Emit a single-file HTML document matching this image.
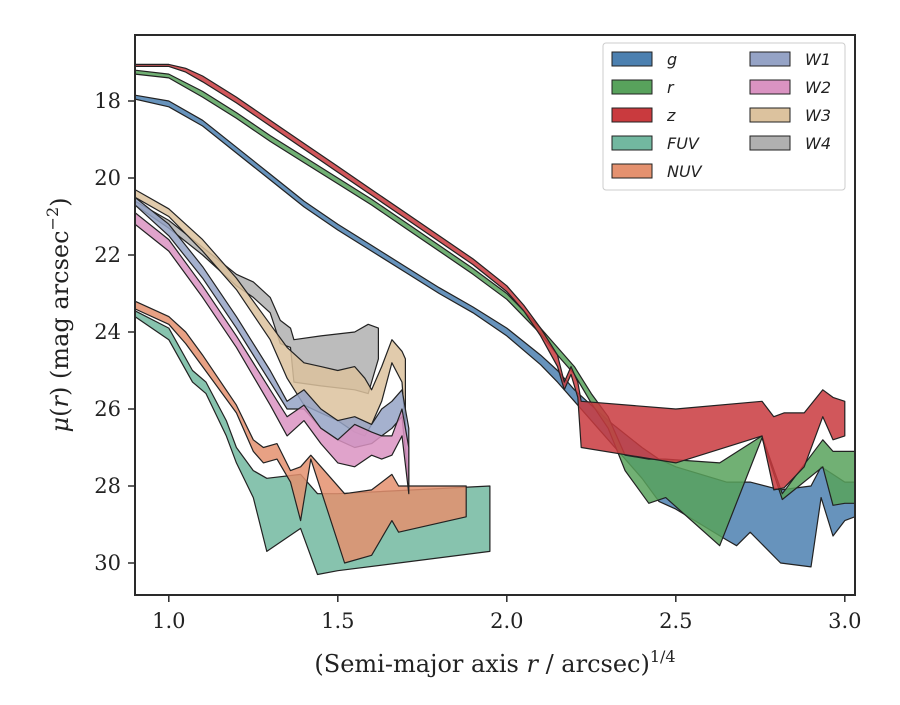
<!DOCTYPE html>
<html><head><meta charset="utf-8">
<style>
body{margin:0;background:#fff;}
svg text{font-family:"DejaVu Serif","Liberation Serif",serif;}
.leg{font-family:"DejaVu Sans","Liberation Sans",sans-serif;font-style:italic;font-size:16px;fill:#222;}
</style></head>
<body>
<svg id="chart" width="900" height="700" xmlns="http://www.w3.org/2000/svg">
<rect width="900" height="700" fill="#fff"/>
<g id="bands"></g>
<g id="axes"></g>
</svg>
<script>
const xTicks=[1.0,1.5,2.0,2.5,3.0];
const xTickLabels=["1.0","1.5","2.0","2.5","3.0"];
const yTicks=[18,20,22,24,26,28,30];
const yTickLabels=["18","20","22","24","26","28","30"];

const gX=[0.9,1.0,1.1,1.2,1.3,1.4,1.5,1.6,1.7,1.8,1.9,2.0,2.1,2.15,2.2,2.3,2.4,2.45,2.5,2.65,2.68,2.72,2.81,2.9,2.93,2.965,3.0,3.03];
const gTop=[17.85,18.0,18.5,19.2,19.9,20.6,21.2,21.75,22.3,22.85,23.35,23.9,24.6,25.0,25.5,26.3,27.0,27.3,27.5,27.9,27.9,27.9,28.1,28.0,27.5,27.7,27.9,27.9];
const gBot=[17.95,18.15,18.65,19.35,20.05,20.75,21.35,21.9,22.45,23.0,23.5,24.1,24.85,25.3,25.8,26.8,27.8,28.4,28.6,29.4,29.55,29.2,30.0,30.1,28.3,29.3,28.9,28.8];

const rX=[0.9,1.0,1.1,1.2,1.3,1.4,1.5,1.6,1.7,1.8,1.9,2.0,2.1,2.15,2.2,2.25,2.3,2.35,2.42,2.47,2.63,2.755,2.815,2.935,2.965,3.0,3.03];
const rTop=[17.2,17.3,17.75,18.3,18.9,19.45,20.0,20.55,21.15,21.75,22.35,23.0,23.9,24.4,24.9,25.6,26.2,27.2,27.3,27.3,27.4,26.7,28.2,26.8,27.1,27.1,27.1];
const rBot=[17.3,17.4,17.9,18.45,19.05,19.6,20.15,20.7,21.3,21.9,22.5,23.15,24.05,24.6,25.1,25.85,26.5,27.6,28.45,28.3,29.55,26.75,28.35,27.5,28.5,28.45,28.45];

const zX=[0.9,1.0,1.05,1.1,1.2,1.3,1.4,1.5,1.6,1.7,1.8,1.9,2.0,2.05,2.1,2.15,2.17,2.19,2.21,2.22,2.5,2.755,2.79,2.82,2.88,2.935,2.965,3.0];
const zTop=[17.05,17.05,17.15,17.35,17.9,18.5,19.1,19.7,20.3,20.9,21.5,22.1,22.8,23.3,23.9,24.6,25.3,24.9,25.3,25.8,26.0,25.8,26.2,26.1,26.1,25.5,25.7,25.8];
const zBot=[17.1,17.1,17.25,17.5,18.05,18.65,19.25,19.85,20.45,21.05,21.65,22.25,22.95,23.45,24.1,24.9,25.5,25.1,25.7,27.0,27.4,26.7,28.1,28.05,27.5,26.2,26.8,26.7];

const fuvX=[0.9,1.0,1.07,1.11,1.17,1.2,1.25,1.29,1.39,1.44,1.5,1.95];
const fuvTop=[23.45,23.9,25.0,25.3,26.3,27.0,27.6,27.8,27.7,28.2,28.2,28.0];
const fuvBot=[23.6,24.2,25.3,25.6,26.7,27.4,28.3,29.7,29.1,30.3,30.2,29.7];

const nuvX=[0.9,1.0,1.05,1.1,1.2,1.25,1.28,1.32,1.36,1.39,1.42,1.52,1.6,1.66,1.68,1.88];
const nuvTop=[23.2,23.6,24.0,24.6,25.9,26.8,27.0,26.9,27.6,27.5,27.2,28.2,28.1,27.7,28.0,28.0];
const nuvBot=[23.4,23.8,24.3,24.9,26.1,27.1,27.4,27.3,27.9,28.9,27.3,30.0,29.8,28.9,29.2,28.8];

const wX=[0.9,1.0,1.1,1.2,1.3,1.35,1.4,1.45,1.5,1.55,1.6,1.63,1.66,1.69,1.71];
const w1Top=[20.5,21.2,22.3,23.6,25.0,25.8,25.5,26.0,26.3,26.2,26.4,26.0,25.8,25.5,26.5];
const w1Bot=[20.7,21.5,22.6,23.9,25.3,26.0,26.0,26.5,26.8,27.0,26.9,26.7,26.5,26.2,28.0];
const w2Top=[20.9,21.6,22.8,24.1,25.5,26.2,25.9,26.5,26.8,26.4,26.6,26.7,26.7,26.0,27.0];
const w2Bot=[21.2,21.9,23.1,24.4,25.9,26.7,26.3,26.9,27.4,27.5,27.2,27.3,27.2,26.7,28.2];

const w3X=[0.9,1.0,1.1,1.2,1.3,1.35,1.4,1.45,1.5,1.55,1.58,1.6,1.63,1.66,1.69,1.7];
const w3Top=[20.3,20.8,21.6,22.6,23.8,24.4,24.8,24.9,25.0,24.9,25.2,25.5,24.9,24.2,24.5,24.7];
const w3Bot=[20.5,21.0,21.9,22.9,24.2,25.2,25.9,26.1,26.3,26.6,26.7,26.4,25.8,24.8,25.3,26.5];

const w4X=[0.9,1.0,1.1,1.2,1.25,1.3,1.33,1.36,1.37,1.45,1.55,1.59,1.62];
const w4Top=[20.6,21.1,21.8,22.5,22.7,23.1,23.7,23.9,24.2,24.1,24.0,23.8,23.9];
const w4Bot=[20.7,21.3,22.0,22.8,23.1,23.5,24.3,24.4,25.3,25.4,25.5,25.6,24.7];

const L=135,R=855,T=35,B=595;
const XMIN=0.9,XMAX=0.9+(R-L)/338,YMIN=18-(101-T)/38.5,YMAX=18+(B-101)/38.5;
function sx(v){return L+(v-XMIN)/(XMAX-XMIN)*(R-L);}
function sy(v){return T+(v-YMIN)/(YMAX-YMIN)*(B-T);}
const NS="http://www.w3.org/2000/svg";
function mk(tag,attrs,parent){const e=document.createElementNS(NS,tag);for(const k in attrs)e.setAttribute(k,attrs[k]);parent.appendChild(e);return e;}

const bands=document.getElementById('bands');
function band(name,xs,top,bot,color){
  let pts=[];
  for(let i=0;i<xs.length;i++)pts.push(sx(xs[i]).toFixed(1)+','+sy(top[i]).toFixed(1));
  for(let i=xs.length-1;i>=0;i--)pts.push(sx(xs[i]).toFixed(1)+','+sy(bot[i]).toFixed(1));
  const p=mk('polygon',{points:pts.join(' '),fill:color,'fill-opacity':0.85,stroke:'#222','stroke-width':1.2,'stroke-linejoin':'round'},bands);
  
  
}
const clip=mk('clipPath',{id:'pc'},document.getElementById('chart'));
mk('rect',{x:L,y:T,width:R-L,height:B-T},clip);
bands.setAttribute('clip-path','url(#pc)');
band('band-fuv',fuvX,fuvTop,fuvBot,'#72b8a0');
band('band-nuv',nuvX,nuvTop,nuvBot,'#e4916f');
band('band-w4',w4X,w4Top,w4Bot,'#b0b0b0');
band('band-w3',w3X,w3Top,w3Bot,'#dcc29e');
band('band-w1',wX,w1Top,w1Bot,'#95a3c6');
band('band-w2',wX,w2Top,w2Bot,'#da93c2');
band('band-g',gX,gTop,gBot,'#4c80b0');
band('band-r',rX,rTop,rBot,'#58a25c');
band('band-z',zX,zTop,zBot,'#c93a3e');

const ax=document.getElementById('axes');
let fr=mk('rect',{x:L,y:T,width:R-L,height:B-T,fill:'none',stroke:'#2a2a2a','stroke-width':2},ax);


xTicks.forEach((v,i)=>{
  const x=sx(v);
  const t=mk('line',{x1:x,x2:x,y1:B,y2:B+7,stroke:'#2a2a2a','stroke-width':1.5},ax);
  
  
  const l=mk('text',{x:x,y:B+33,'text-anchor':'middle','font-size':21,fill:'#222'},ax);
  l.textContent=xTickLabels[i];
  
  
});
yTicks.forEach((v,i)=>{
  const y=sy(v);
  const t=mk('line',{x1:L-7,x2:L,y1:y,y2:y,stroke:'#2a2a2a','stroke-width':1.5},ax);
  
  
  const l=mk('text',{x:L-14,y:y+7,'text-anchor':'end','font-size':21,fill:'#222'},ax);
  l.textContent=yTickLabels[i];
  
  
});
</script>
<svg style="position:absolute;left:0;top:0" width="900" height="700" xmlns="http://www.w3.org/2000/svg">
<text x="495" y="672" text-anchor="middle" font-size="24" fill="#222">(Semi-major axis <tspan font-style="italic">r</tspan> / arcsec)<tspan font-size="16" dy="-10">1/4</tspan></text>
<text transform="translate(68,315) rotate(-90)" text-anchor="middle" font-size="24" fill="#222"><tspan font-style="italic">μ</tspan>(<tspan font-style="italic">r</tspan>) (mag arcsec<tspan font-size="16" dy="-10">−2</tspan><tspan dy="10">)</tspan></text>
<g>
<rect x="603" y="43" width="242" height="147" rx="3" fill="#fff" fill-opacity="0.85" stroke="#ccc"/>
<g><rect x="612" y="52" width="40" height="14" fill="#4c80b0" stroke="#222"/><text class="leg" x="667" y="65">g</text></g>
<g><rect x="612" y="80" width="40" height="14" fill="#58a25c" stroke="#222"/><text class="leg" x="667" y="93">r</text></g>
<g><rect x="612" y="108" width="40" height="14" fill="#c93a3e" stroke="#222"/><text class="leg" x="667" y="121">z</text></g>
<g><rect x="612" y="136" width="40" height="14" fill="#72b8a0" stroke="#222"/><text class="leg" x="667" y="149">FUV</text></g>
<g><rect x="612" y="164" width="40" height="14" fill="#e4916f" stroke="#222"/><text class="leg" x="667" y="177">NUV</text></g>
<g><rect x="750" y="52" width="40" height="14" fill="#95a3c6" stroke="#222"/><text class="leg" x="805" y="65">W1</text></g>
<g><rect x="750" y="80" width="40" height="14" fill="#da93c2" stroke="#222"/><text class="leg" x="805" y="93">W2</text></g>
<g><rect x="750" y="108" width="40" height="14" fill="#dcc29e" stroke="#222"/><text class="leg" x="805" y="121">W3</text></g>
<g><rect x="750" y="136" width="40" height="14" fill="#b0b0b0" stroke="#222"/><text class="leg" x="805" y="149">W4</text></g>
</g>
</svg>
</body></html>
